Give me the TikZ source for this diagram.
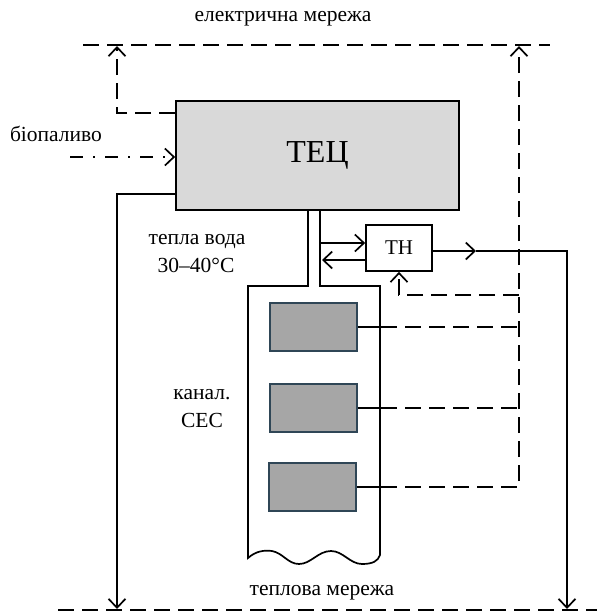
\documentclass[tikz,border=0pt]{standalone}
\usepackage{fontspec}
\setmainfont{Liberation Serif}
\usetikzlibrary{arrows.meta}
\definecolor{tecfill}{HTML}{D9D9D9}
\definecolor{cellfill}{HTML}{A6A6A6}
\definecolor{celledge}{HTML}{2F4656}
\begin{document}
\begin{tikzpicture}[x=1pt,y=-1pt,line width=1.7pt,
  arr/.style={-{Straight Barb[length=9pt,width=17pt,line width=1.7pt]}},
  dsh/.style={dash pattern=on 16pt off 8pt},
  dashdotline/.style={dash pattern=on 13pt off 10pt on 2pt off 10pt},
  lbl/.style={font=\fontsize{21.5}{25}\selectfont,inner sep=0pt},
  cell/.style={draw=celledge,fill=cellfill,minimum width=87pt,minimum height=48pt,inner sep=0pt}]
\useasboundingbox (0,0) rectangle (597,614);

% networks
\draw[dsh] (83,45) coordinate (eL) -- (550,45) coordinate (eR);
\draw[dsh] (58,610) coordinate (hL) -- (597,610) coordinate (hR);
\node[lbl] (elab) at (283,19) {електрична мережа};
\node[lbl] (hlab) at (322,593) {теплова мережа};

% CHP
\node[draw,fill=tecfill,minimum width=283pt,minimum height=109pt,inner sep=0pt,
      font=\fontsize{32}{36}\selectfont] (tec) at (317.5,155.5) {\raisebox{-4pt}{ТЕЦ}};
\node[lbl] (bio) at (56,134) {біопаливо};
\draw[dashdotline,arr] (70,157) coordinate (bioS) -- (tec.west |- bioS);

% electricity from CHP
\coordinate (e1) at (117,45);
\draw[dsh,arr] (tec.west |- 0,113) -- (117,113) -- ([yshift=-1pt]e1);

% heat to network on the left
\coordinate (h1) at (117,610);
\draw[arr] (tec.west |- 0,194) -- (117,194) -- ([yshift=1pt]h1);

% channel with warm water
\draw (308,0 |- tec.south) -- (308,286) -- (248,286) -- (248,558)
  .. controls (256,551) and (264,550) .. (272,551)
  .. controls (283,553) and (288,564) .. (299,564)
  .. controls (311,564) and (318,551) .. (331,551)
  .. controls (343,551) and (350,564) .. (362,564)
  .. controls (373,564) and (378,561) .. (380,555)
  -- (380,286) -- (320,286) -- (320,0 |- tec.south);
\node[lbl] (tw1) at (197,242) {тепла вода};
\node[lbl] (tw2) at (196,265) {30–40°C};
\node[lbl] (ch1) at (202,395) {канал.};
\node[lbl] (ch2) at (202,420) {СЕС};

% heat pump
\node[draw,fill=white,minimum width=66pt,minimum height=46pt,inner sep=0pt,
      font=\fontsize{21}{24}\selectfont] (th) at (399,248) {ТН};
\draw[arr] (320,243) -- (th.west |- 0,243);
\draw[arr] (th.west |- 0,260) -- (322,260);
\coordinate (thm) at (476,251);
\coordinate (h2) at (567,610);
\draw[arr] (th.east |- thm) -- (thm);
\draw[arr] (thm) -- (567,251) -- ([yshift=1pt]h2);

% PV cells
\node[cell] (c1) at (313.5,327) {};
\node[cell] (c2) at (313.5,408) {};
\node[cell] (c3) at (312.5,487) {};
\coordinate (e2) at (519,45);
\draw (c1.east) -- (381,327);
\draw (c2.east) -- (381,408);
\draw (c3.east) -- (381,487);
\draw[dsh] (381,327) -- (519,327);
\draw[dsh] (381,408) -- (519,408);
\draw[dsh,arr] (381,487) -- (519,487) -- ([yshift=-1pt]e2);
\draw[dsh,arr] (519,295) -- (399,295) -- (th.south);
\end{tikzpicture}
\end{document}
